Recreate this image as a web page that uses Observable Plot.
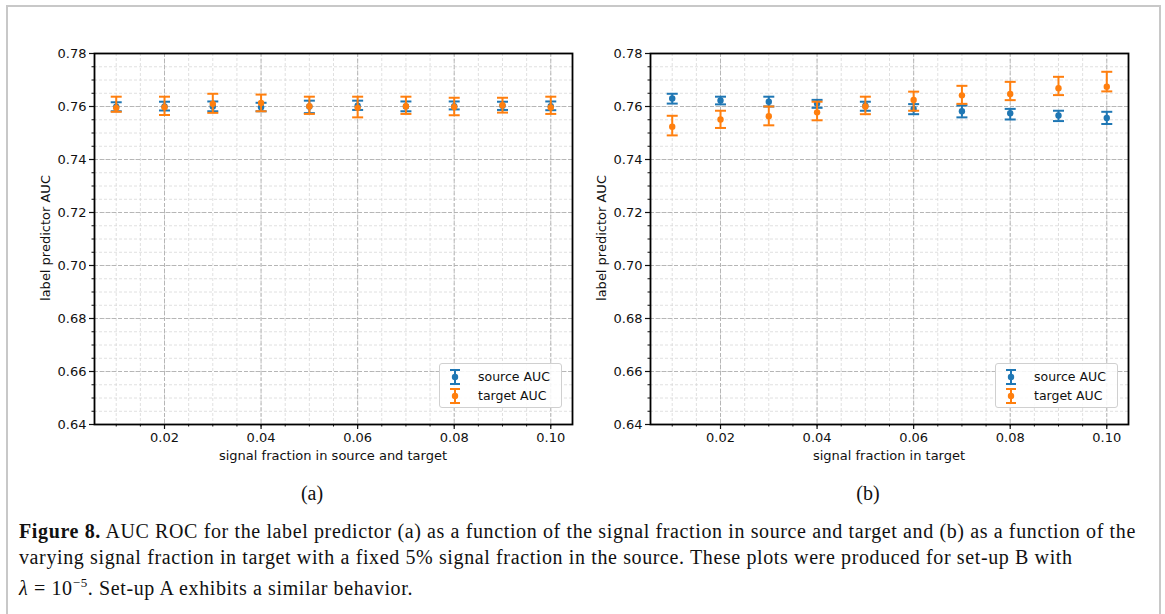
<!DOCTYPE html>
<html>
<head>
<meta charset="utf-8">
<script src="https://cdn.jsdelivr.net/npm/d3@7"></script>
<script src="https://cdn.jsdelivr.net/npm/@observablehq/plot@0.6"></script>
<style>
  html, body { margin: 0; padding: 0; background: #fff; overflow: hidden; }
  #root { position: relative; width: 1165px; height: 614px; font-family: "DejaVu Sans", sans-serif; }
  #border { position: absolute; left: 6px; top: 5px; width: 1155px; height: 700px; border: 2px solid #c8c8c8; box-sizing: border-box; }
  .panel { position: absolute; top: 0; }
  .ylab { position: absolute; font-size: 13px; color: #111; transform: translate(-50%, -50%) rotate(-90deg); white-space: nowrap; }
  .xlab { position: absolute; font-size: 13px; color: #111; transform: translate(-50%, -50%); white-space: nowrap; }
  .sub { position: absolute; font-family: "Liberation Serif", serif; font-size: 20px; color: #111; transform: translate(-50%, -50%); }
  .legend { position: absolute; width: 123px; height: 45px; border: 1px solid #d0d0d0; border-radius: 3px; background: rgba(255,255,255,0.85); box-sizing: border-box; font-size: 12.5px; color: #111; }
  .legend .row { position: absolute; left: 0; height: 18px; line-height: 18px; white-space: nowrap; }
  .legend svg { position: absolute; left: 8px; top: 0; }
  .legend span { position: absolute; left: 38px; top: 0; }
  #caption { position: absolute; left: 19px; top: 519px; font-family: "Liberation Serif", serif; font-size: 20px; letter-spacing: 0.62px; line-height: 25.5px; color: #111; white-space: nowrap; }
</style>
</head>
<body>
<div id="root">
  <div id="border"></div>
</div>
<script>
// ---- data ----
const fractions = [0.01, 0.02, 0.03, 0.04, 0.05, 0.06, 0.07, 0.08, 0.09, 0.10];

// panel (a): signal fraction in source and target
const aSourceMean = [0.7599, 0.7600, 0.7600, 0.7597, 0.7600, 0.7603, 0.7600, 0.7601, 0.7603, 0.7601];
const aSourceLow  = [0.7582, 0.7585, 0.7582, 0.7582, 0.7575, 0.7587, 0.7582, 0.7589, 0.7587, 0.7586];
const aSourceHigh = [0.7616, 0.7618, 0.7619, 0.7614, 0.7622, 0.7622, 0.7619, 0.7619, 0.7618, 0.7619];
const aTargetMean = [0.7595, 0.7597, 0.7610, 0.7613, 0.7601, 0.7595, 0.7601, 0.7598, 0.7605, 0.7596];
const aTargetLow  = [0.7580, 0.7568, 0.7576, 0.7582, 0.7572, 0.7559, 0.7572, 0.7567, 0.7577, 0.7572];
const aTargetHigh = [0.7637, 0.7637, 0.7648, 0.7645, 0.7637, 0.7637, 0.7637, 0.7633, 0.7633, 0.7637];

// panel (b): signal fraction in target (source fixed at 5%)
const bSourceMean = [0.7630, 0.7623, 0.7618, 0.7611, 0.7603, 0.7591, 0.7582, 0.7575, 0.7566, 0.7557];
const bSourceLow  = [0.7611, 0.7608, 0.7600, 0.7595, 0.7584, 0.7571, 0.7559, 0.7551, 0.7545, 0.7534];
const bSourceHigh = [0.7648, 0.7637, 0.7637, 0.7625, 0.7618, 0.7609, 0.7604, 0.7591, 0.7584, 0.7580];
const bTargetMean = [0.7524, 0.7551, 0.7563, 0.7578, 0.7600, 0.7625, 0.7642, 0.7647, 0.7669, 0.7675];
const bTargetLow  = [0.7491, 0.7519, 0.7529, 0.7548, 0.7571, 0.7584, 0.7610, 0.7624, 0.7643, 0.7657];
const bTargetHigh = [0.7565, 0.7584, 0.7600, 0.7618, 0.7637, 0.7656, 0.7678, 0.7693, 0.7712, 0.7731];

const seriesNames = ["source AUC", "target AUC"];
const seriesColors = ["#1f77b4", "#ff7f0e"];

const yMajorTicks = [0.64, 0.66, 0.68, 0.70, 0.72, 0.74, 0.76, 0.78];
const yMinorTicks = d3.range(128, 157).map(v => v / 200);
const xMajorTicks = [0.02, 0.04, 0.06, 0.08, 0.10];
const xMinorTicks = d3.range(2, 21).map(v => v / 200);

const xLabels = ["signal fraction in source and target", "signal fraction in target"];
const panelLetters = ["(a)", "(b)"];

// ---- helpers ----
function rows(x, mean, lo, hi, name) {
  return x.map((v, i) => ({x: v, mean: mean[i], lo: lo[i], hi: hi[i], series: name}));
}
const capSymbol = {
  draw(ctx, size) {
    const w = Math.sqrt(size / Math.PI);
    ctx.moveTo(-w, 0);
    ctx.lineTo(w, 0);
  }
};

function errorMarks(data, color) {
  return [
    Plot.ruleX(data, {x: "x", y1: "lo", y2: "hi", stroke: color, strokeWidth: 2}),
    Plot.dot(data, {x: "x", y: "lo", symbol: capSymbol, r: 5.5, stroke: color, strokeWidth: 2, fill: "none"}),
    Plot.dot(data, {x: "x", y: "hi", symbol: capSymbol, r: 5.5, stroke: color, strokeWidth: 2, fill: "none"}),
    Plot.dot(data, {x: "x", y: "mean", r: 3.2, fill: color, stroke: "none"})
  ];
}

function panel(src, tgt) {
  return Plot.plot({
    width: 590,
    height: 470,
    marginLeft: 94,
    marginRight: 18,
    marginTop: 53,
    marginBottom: 46,
    style: {fontFamily: "DejaVu Sans, sans-serif", fontSize: "13px", color: "#111", background: "transparent", overflow: "visible"},
    x: {domain: [0.0055, 0.1045]},
    y: {domain: [0.64, 0.78]},
    marks: [
      Plot.gridX(xMinorTicks, {stroke: "#d8d8d8", strokeOpacity: 1, strokeWidth: 0.8, strokeDasharray: "3,2"}),
      Plot.gridY(yMinorTicks, {stroke: "#d8d8d8", strokeOpacity: 1, strokeWidth: 0.8, strokeDasharray: "3,2"}),
      Plot.gridX(xMajorTicks, {stroke: "#b0b0b0", strokeOpacity: 1, strokeWidth: 0.9, strokeDasharray: "4,2"}),
      Plot.gridY(yMajorTicks, {stroke: "#b0b0b0", strokeOpacity: 1, strokeWidth: 0.9, strokeDasharray: "4,2"}),
      Plot.axisX(xMinorTicks, {tickSize: 2.5, tickFormat: () => "", label: null, strokeWidth: 1}),
      Plot.axisY(yMinorTicks, {tickSize: 2.5, tickFormat: () => "", label: null, strokeWidth: 1}),
      Plot.axisX(xMajorTicks, {tickSize: 5, tickPadding: 3, tickFormat: d3.format(".2f"), label: null, strokeWidth: 1.2, fontSize: 13}),
      Plot.axisY(yMajorTicks, {tickSize: 5, tickPadding: 3, tickFormat: d3.format(".2f"), label: null, strokeWidth: 1.2, fontSize: 13}),
      ...errorMarks(src, seriesColors[0]),
      ...errorMarks(tgt, seriesColors[1]),
      Plot.frame({stroke: "#000", strokeWidth: 1.8})
    ]
  });
}

const root = document.getElementById("root");
const panelsData = [
  [rows(fractions, aSourceMean, aSourceLow, aSourceHigh, seriesNames[0]), rows(fractions, aTargetMean, aTargetLow, aTargetHigh, seriesNames[1])],
  [rows(fractions, bSourceMean, bSourceLow, bSourceHigh, seriesNames[0]), rows(fractions, bTargetMean, bTargetLow, bTargetHigh, seriesNames[1])]
];
const panelLefts = [0, 556];

panelsData.forEach(([src, tgt], i) => {
  const left = panelLefts[i];
  const wrap = document.createElement("div");
  wrap.className = "panel";
  wrap.style.left = left + "px";
  wrap.appendChild(panel(src, tgt));
  root.appendChild(wrap);

  const plotLeft = left + 94, plotRight = left + 572;
  const yl = document.createElement("div");
  yl.className = "ylab";
  yl.textContent = "label predictor AUC";
  yl.style.left = (left + 45) + "px";
  yl.style.top = "238px";
  root.appendChild(yl);

  const xl = document.createElement("div");
  xl.className = "xlab";
  xl.textContent = xLabels[i];
  xl.style.left = ((plotLeft + plotRight) / 2) + "px";
  xl.style.top = "455px";
  root.appendChild(xl);

  const sub = document.createElement("div");
  sub.className = "sub";
  sub.textContent = panelLetters[i];
  sub.style.left = ((plotLeft + plotRight) / 2 - 21) + "px";
  sub.style.top = "493px";
  root.appendChild(sub);

  const lg = document.createElement("div");
  lg.className = "legend";
  lg.style.left = (plotRight - 133) + "px";
  lg.style.top = "363px";
  seriesNames.forEach((name, k) => {
    const r = document.createElement("div");
    r.className = "row";
    r.style.top = (4 + k * 19) + "px";
    r.style.width = "120px";
    const c = seriesColors[k];
    r.innerHTML = `<svg width="14" height="18" viewBox="0 0 14 18">
      <line x1="7" y1="2" x2="7" y2="16" stroke="${c}" stroke-width="2"/>
      <line x1="2" y1="2" x2="12" y2="2" stroke="${c}" stroke-width="2"/>
      <line x1="2" y1="16" x2="12" y2="16" stroke="${c}" stroke-width="2"/>
      <circle cx="7" cy="9" r="3.2" fill="${c}"/></svg><span>${name}</span>`;
    lg.appendChild(r);
  });
  root.appendChild(lg);
});

const cap = document.createElement("div");
cap.id = "caption";
cap.innerHTML = `<b>Figure 8.</b> AUC ROC for the label predictor (a) as a function of the signal fraction in source and target and (b) as a function of the<br>varying signal fraction in target with a fixed 5% signal fraction in the source. These plots were produced for set-up B with<br><i>λ</i> = 10<sup style="font-size:13px">−5</sup>. Set-up A exhibits a similar behavior.`;
root.appendChild(cap);
</script>
</body>
</html>
